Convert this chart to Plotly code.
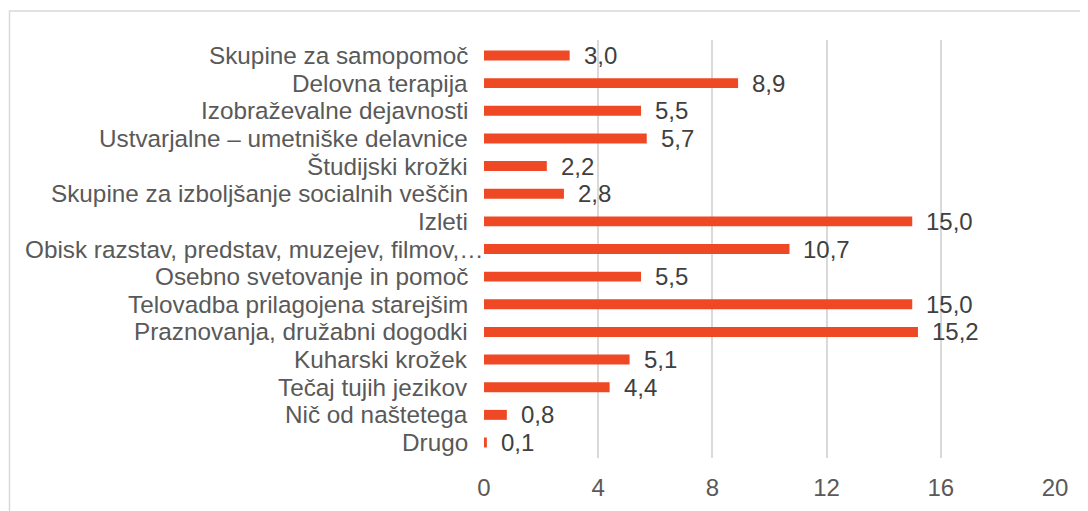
import plotly.graph_objects as go

categories = [
    "Skupine za samopomoč",
    "Delovna terapija",
    "Izobraževalne dejavnosti",
    "Ustvarjalne – umetniške delavnice",
    "Študijski krožki",
    "Skupine za izboljšanje socialnih veščin",
    "Izleti",
    "Obisk razstav, predstav, muzejev, filmov,…",
    "Osebno svetovanje in pomoč",
    "Telovadba prilagojena starejšim",
    "Praznovanja, družabni dogodki",
    "Kuharski krožek",
    "Tečaj tujih jezikov",
    "Nič od naštetega",
    "Drugo",
]
values = [3.0, 8.9, 5.5, 5.7, 2.2, 2.8, 15.0, 10.7, 5.5, 15.0, 15.2, 5.1, 4.4, 0.8, 0.1]
x_ticks = [0, 4, 8, 12, 16, 20]

# the page body has an 8px default margin; compensate
OFF = 8
W, H = 1088 - OFF, 511 - OFF
L, T = 484 - OFF, 40 - OFF
pw, ph = 571, 418
R = W - L - pw
B = H - T - ph

FONT = "Liberation Sans"

fig = go.Figure(go.Bar(
    x=values, y=categories, orientation="h",
    marker=dict(color="#EF4824", line=dict(width=0)),
    hoverinfo="x+y",
))

# category labels (the truncated label sits closer to the axis, as in the original)
for c in categories:
    fig.add_annotation(
        x=0, y=c, xref="x", yref="y", text=c, showarrow=False,
        xanchor="right", yanchor="middle",
        xshift=(2 if c.endswith("…") else -14), yshift=0,
        font=dict(family=FONT, size=24.3, color="#595959"),
    )

for c, v in zip(categories, values):
    fig.add_annotation(
        x=v, y=c, text=f"{v:.1f}".replace(".", ","), showarrow=False,
        xanchor="left", yanchor="middle", xshift=12, yshift=0,
        font=dict(family=FONT, size=24, color="#404040"),
    )

fig.add_shape(
    type="rect", xref="paper", yref="paper",
    x0=(9.5 - OFF - L) / pw, x1=(W + 5 - L) / pw,
    y0=-(B + 5) / ph, y1=1 + (T - (11 - OFF)) / ph,
    line=dict(color="#D9D9D9", width=1.5), fillcolor="rgba(0,0,0,0)", layer="below",
)

fig.update_layout(
    width=W, height=H,
    margin=dict(l=L, r=R, t=T, b=B, pad=0, autoexpand=False),
    paper_bgcolor="white", plot_bgcolor="white",
    bargap=0.64, showlegend=False,
    font=dict(family=FONT, size=24, color="#595959"),
    xaxis=dict(
        range=[0, 20], tickmode="array", tickvals=x_ticks, ticktext=[str(t) for t in x_ticks],
        showgrid=True, gridcolor="#D9D9D9", gridwidth=1.5,
        zeroline=False, showline=False, ticks="", automargin=False,
        ticklabelstandoff=13,
        tickfont=dict(family=FONT, size=24, color="#595959"),
        fixedrange=True,
    ),
    yaxis=dict(
        autorange="reversed", showgrid=False, zeroline=False, showline=False,
        showticklabels=False, ticks="", automargin=False,
        fixedrange=True,
    ),
)

fig.write_html("out.html")
